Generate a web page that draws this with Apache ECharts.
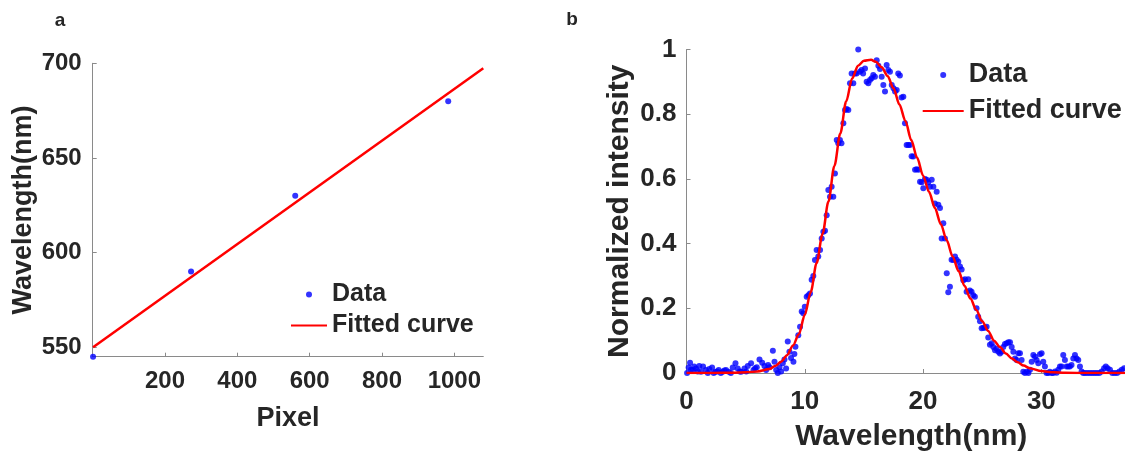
<!DOCTYPE html>
<html>
<head>
<meta charset="utf-8">
<script src="https://cdn.jsdelivr.net/npm/echarts@6/dist/echarts.min.js"></script>
<style>
html,body{margin:0;padding:0;background:#fff;}
#main{width:1125px;height:458px;}
</style>
</head>
<body>
<div id="main"></div>
<script>
// ---- Panel a: pixel calibration ----
const calPixel = [1, 272, 560, 983];
const calWavelength = [545, 590, 630, 680];
const calFitPixel = [1, 1080];
const calFitWavelength = [550, 697.4];

// ---- Panel b: spectrum ----
const specX = [0.05,0.18,0.3,0.38,0.52,0.65,0.8,0.95,1.08,1.22,1.4,1.65,1.8,1.93,2.16,2.3,2.44,2.6,2.72,2.9,
3.06,3.2,3.34,3.57,3.75,3.91,4.14,4.33,4.5,4.62,4.9,5.05,5.18,5.46,5.66,5.8,5.94,6.17,6.4,6.59,
6.73,6.9,7.02,7.3,7.44,7.58,7.72,7.86,8.0,8.14,8.28,8.42,8.56,8.7,8.84,9.04,9.12,9.21,9.45,9.6,
9.74,9.87,10.0,10.16,10.3,10.44,10.58,10.72,10.86,11.0,11.14,11.29,11.43,11.57,11.71,11.85,11.99,12.13,12.27,12.41,
12.55,12.7,12.83,12.97,13.1,13.26,13.4,13.54,13.68,13.82,13.96,14.1,14.24,14.38,14.52,14.67,14.8,14.93,15.09,15.23,
15.37,15.51,15.65,15.79,15.93,16.08,16.22,16.36,16.5,16.64,16.78,16.92,17.06,17.2,17.35,17.5,17.63,17.77,17.9,18.04,
18.18,18.33,18.47,18.61,18.75,18.89,19.03,19.17,19.32,19.46,19.6,19.74,19.88,20.02,20.16,20.3,20.44,20.58,20.73,20.87,
21.0,21.15,21.29,21.43,21.57,21.71,21.85,22.0,22.13,22.27,22.41,22.55,22.7,22.84,22.98,23.12,23.26,23.4,23.54,23.68,
23.82,23.96,24.1,24.24,24.38,24.52,24.66,24.81,24.95,25.09,25.23,25.37,25.51,25.65,25.8,25.94,26.08,26.22,26.36,26.5,
26.64,26.78,26.92,27.07,27.21,27.35,27.49,27.63,27.77,27.91,28.05,28.19,28.33,28.47,28.61,28.76,28.9,29.04,29.18,29.32,
29.46,29.6,29.74,29.88,30.02,30.16,30.3,30.44,30.58,30.72,30.86,31.0,31.15,31.29,31.43,31.57,31.71,31.85,31.99,32.13,
32.27,32.41,32.55,32.7,32.84,32.98,33.12,33.26,33.4,33.54,33.7,33.9,34.1,34.3,34.5,34.7,34.9,35.1,35.3,35.45,
35.6,35.8,36.0,36.2,36.4,36.6,36.8,37.0];
const specY = [0.0,0.017,0.032,0.01,0.009,0.02,0.014,0.005,0.022,0.004,0.02,0.009,0.0,0.012,0.017,0.0,0.004,0.005,0.009,0.0,
0.004,0.008,0.009,0.004,0.0,0.017,0.03,0.014,0.005,0.004,0.014,0.005,0.022,0.03,0.009,0.015,0.018,0.042,0.032,0.022,
0.009,0.025,0.018,0.069,0.035,0.009,0.0,0.018,0.005,0.03,0.042,0.014,0.097,0.066,0.046,0.035,0.059,0.081,0.117,0.143,
0.19,0.185,0.205,0.236,0.24,0.246,0.288,0.3,0.349,0.38,0.36,0.38,0.416,0.437,0.44,0.488,0.566,0.545,0.576,0.545,
0.617,0.72,0.71,0.72,0.71,0.772,0.813,0.816,0.813,0.896,0.926,0.896,0.926,0.926,1.0,0.931,0.937,0.926,0.941,0.9,
0.896,0.906,0.911,0.921,0.916,0.967,0.95,0.94,0.916,0.89,0.87,0.952,0.937,0.931,0.89,0.88,0.87,0.875,0.926,0.92,
0.852,0.854,0.772,0.705,0.705,0.705,0.67,0.669,0.628,0.63,0.628,0.591,0.59,0.571,0.6,0.597,0.59,0.576,0.597,0.576,
0.524,0.56,0.52,0.51,0.416,0.463,0.416,0.308,0.25,0.267,0.35,0.349,0.36,0.35,0.344,0.329,0.32,0.287,0.29,0.251,
0.29,0.255,0.251,0.24,0.236,0.2,0.174,0.16,0.138,0.14,0.14,0.143,0.11,0.087,0.092,0.08,0.07,0.075,0.066,0.06,
0.066,0.08,0.09,0.092,0.095,0.095,0.08,0.066,0.045,0.04,0.061,0.061,0.04,0.004,0.0,0.004,0.0,0.01,0.035,0.056,
0.05,0.04,0.03,0.058,0.061,0.035,0.02,0.0,0.0,0.004,0.0,0.0,0.005,0.001,0.01,0.02,0.02,0.056,0.04,0.02,
0.02,0.02,0.025,0.045,0.056,0.045,0.04,0.02,0.005,0.0,0.0,0.0,0.0,0.0,0.0,0.0,0.0,0.005,0.015,0.02,
0.015,0.01,0.0,0.0,0.0,0.005,0.01,0.015];
const fitSpecX = [0,2,4,5,6,7,7.5,8,8.5,9,9.5,10,10.5,11,11.5,12,12.5,13,13.5,14,14.5,15,15.6,16,16.5,17,17.5,18,18.5,19,19.5,20,
20.5,21,21.5,22,22.5,23,23.5,24,24.5,25,25.5,26,26.5,27,27.5,28,28.5,29,30,31,32,34,38];
const fitSpecY = [0,0,0.001,0.002,0.005,0.012,0.022,0.035,0.055,0.085,0.12,0.18,0.25,0.34,0.43,0.53,0.64,0.74,0.84,0.91,0.95,0.965,0.968,0.962,0.945,0.918,0.88,0.83,0.78,0.72,0.665,0.61,
0.56,0.51,0.46,0.41,0.36,0.315,0.27,0.23,0.195,0.16,0.13,0.10,0.08,0.06,0.045,0.033,0.023,0.015,0.006,0.002,0.0005,0,0];

const legendNames = ['Data', 'Fitted curve'];

const TXT = '#262626';
const AX = '#8a8a8a';
const FONT = '"Liberation Sans", Arial, sans-serif';

function axisCommon(labelSize, nameSize){
  return {
    axisLine: {show: true, lineStyle: {color: AX, width: 1}},
    axisTick: {show: true, inside: true, length: 4, lineStyle: {color: AX}},
    splitLine: {show: false},
    axisLabel: {color: TXT, fontSize: labelSize, fontWeight: 'bold', fontFamily: FONT},
    nameLocation: 'middle',
    nameMoveOverlap: false,
    nameTextStyle: {color: TXT, fontSize: nameSize, fontWeight: 'bold', fontFamily: FONT}
  };
}

const chart = echarts.init(document.getElementById('main'), null, {renderer: 'canvas'});

const xa0 = axisCommon(24, 27);
const ya0 = axisCommon(24, 27);
const xa1 = axisCommon(26, 30);
const ya1 = axisCommon(26, 30);

const option = {
  animation: false,
  backgroundColor: '#fff',
  textStyle: {fontFamily: FONT},
  graphic: [
    {type: 'text', x: 60, y: 21, style: {text: 'a', fill: TXT, font: 'bold 19px "Liberation Sans", Arial, sans-serif', align: 'center', verticalAlign: 'middle'}},
    {type: 'text', x: 572, y: 20, style: {text: 'b', fill: TXT, font: 'bold 19px "Liberation Sans", Arial, sans-serif', align: 'center', verticalAlign: 'middle'}}
  ],
  grid: [
    {left: 92.7, top: 63.3, width: 390.6, height: 293.4, outerBoundsMode: 'none', containLabel: false},
    {left: 686.5, top: 49.5, width: 449.5, height: 323.5, outerBoundsMode: 'none', containLabel: false}
  ],
  xAxis: [
    Object.assign({}, xa0, {
      type: 'value', gridIndex: 0, min: 0, max: 1080, interval: 200,
      name: 'Pixel', nameGap: 48,
      axisLabel: Object.assign({}, xa0.axisLabel, {margin: 13, showMinLabel: false, showMaxLabel: false,
        formatter: v => (v > 0 && v % 200 === 0 ? String(v) : '')})
    }),
    Object.assign({}, xa1, {
      type: 'value', gridIndex: 1, min: 0, max: 38, interval: 10,
      name: 'Wavelength(nm)', nameGap: 49,
      axisLabel: Object.assign({}, xa1.axisLabel, {margin: 16, showMaxLabel: false,
        formatter: v => (v % 10 === 0 ? String(v) : '')})
    })
  ],
  yAxis: [
    Object.assign({}, ya0, {
      type: 'value', gridIndex: 0, min: 545, max: 700, splitNumber: 3,
      name: 'Wavelength(nm)', nameGap: 56,
      axisLabel: Object.assign({}, ya0.axisLabel, {margin: 11, showMinLabel: false,
        formatter: v => (v % 50 === 0 ? String(v) : '')})
    }),
    Object.assign({}, ya1, {
      type: 'value', gridIndex: 1, min: 0, max: 1, interval: 0.2,
      name: 'Normalized intensity', nameGap: 52,
      axisLabel: Object.assign({}, ya1.axisLabel, {margin: 10})
    })
  ],
  legend: [
    {
      orient: 'vertical', left: 290, top: 279, itemWidth: 36, itemHeight: 6, itemGap: 0,
      textStyle: {color: TXT, fontSize: 25, fontWeight: 'bold', fontFamily: FONT, lineHeight: 31},
      padding: 0, selectedMode: false,
      data: [{name: legendNames[0], icon: 'circle'}, {name: legendNames[1], itemStyle: {opacity: 0}}]
    },
    {
      orient: 'vertical', left: 921.7, top: 57, itemWidth: 41, itemHeight: 6, itemGap: 0,
      textStyle: {color: TXT, fontSize: 27, fontWeight: 'bold', fontFamily: FONT, lineHeight: 36},
      padding: 0, selectedMode: false,
      data: [{name: legendNames[0] + ' ', icon: 'circle'}, {name: legendNames[1] + ' ', itemStyle: {opacity: 0}}],
      formatter: n => n.trim()
    }
  ],
  series: [
    {
      name: legendNames[1], type: 'line', xAxisIndex: 0, yAxisIndex: 0,
      data: calFitPixel.map((x, i) => [x, calFitWavelength[i]]),
      showSymbol: false, symbol: 'none',
      lineStyle: {color: '#ff0000', width: 2.5}, itemStyle: {color: '#ff0000'}, z: 2
    },
    {
      name: legendNames[0], type: 'scatter', xAxisIndex: 0, yAxisIndex: 0,
      data: calPixel.map((x, i) => [x, calWavelength[i]]),
      symbol: 'circle', symbolSize: 6, itemStyle: {color: '#0000ff'}, z: 3, clip: false
    },
    {
      name: legendNames[0] + ' ', type: 'scatter', xAxisIndex: 1, yAxisIndex: 1,
      data: specX.map((x, i) => [x, specY[i]]),
      symbol: 'circle', symbolSize: 6, itemStyle: {color: '#0000ff'}, z: 2, clip: false
    },
    {
      name: legendNames[1] + ' ', type: 'line', xAxisIndex: 1, yAxisIndex: 1,
      data: fitSpecX.map((x, i) => [x, fitSpecY[i]]),
      showSymbol: false, symbol: 'none', smooth: 0.3, smoothMonotone: 'x',
      lineStyle: {color: '#ff0000', width: 2.5}, itemStyle: {color: '#ff0000'}, z: 3
    }
  ]
};
chart.setOption(option);
</script>
</body>
</html>
